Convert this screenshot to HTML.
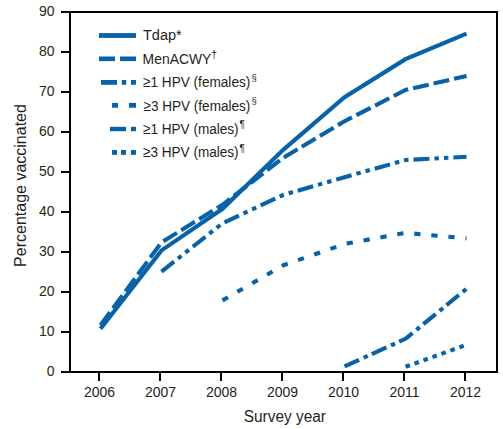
<!DOCTYPE html>
<html><head><meta charset="utf-8"><style>
html,body{margin:0;padding:0;background:#fff;width:503px;height:429px;overflow:hidden}
svg{display:block}
text{font-family:"Liberation Sans",sans-serif;fill:#231f20}
</style></head><body>
<svg width="503" height="429" viewBox="0 0 503 429">
<rect x="70" y="12" width="427" height="360" fill="none" stroke="#000" stroke-width="2"/>
<g stroke="#000" stroke-width="2"><line x1="61" y1="372" x2="70" y2="372"/>
<line x1="61" y1="332" x2="70" y2="332"/>
<line x1="61" y1="292" x2="70" y2="292"/>
<line x1="61" y1="252" x2="70" y2="252"/>
<line x1="61" y1="212" x2="70" y2="212"/>
<line x1="61" y1="172" x2="70" y2="172"/>
<line x1="61" y1="132" x2="70" y2="132"/>
<line x1="61" y1="92" x2="70" y2="92"/>
<line x1="61" y1="52" x2="70" y2="52"/>
<line x1="61" y1="12" x2="70" y2="12"/>
<line x1="99" y1="372" x2="99" y2="381"/>
<line x1="160" y1="372" x2="160" y2="381"/>
<line x1="221" y1="372" x2="221" y2="381"/>
<line x1="282" y1="372" x2="282" y2="381"/>
<line x1="343" y1="372" x2="343" y2="381"/>
<line x1="404" y1="372" x2="404" y2="381"/>
<line x1="465" y1="372" x2="465" y2="381"/></g>
<polyline points="100.50,328.80 161.50,250.40 222.50,208.80 283.50,149.60 344.50,97.20 405.50,59.20 466.50,33.60" fill="none" stroke="#0562ab" stroke-width="4.1" stroke-linejoin="miter"/>
<polyline points="100.50,325.20 161.50,242.40 222.50,204.80 283.50,157.60 344.50,121.20 405.50,90.00 466.50,76.00" fill="none" stroke="#0562ab" stroke-width="4.1" stroke-linejoin="miter" stroke-dasharray="16 5"/>
<polyline points="161.50,271.60 222.50,223.20 283.50,194.80 344.50,177.20 405.50,160.00 466.50,156.80" fill="none" stroke="#0562ab" stroke-width="4.1" stroke-linejoin="miter" stroke-dasharray="16 5 4.5 5 4.5 5"/>
<polyline points="222.50,300.40 283.50,265.20 344.50,244.00 405.50,232.80 466.50,238.40" fill="none" stroke="#0562ab" stroke-width="4.1" stroke-linejoin="miter" stroke-dasharray="6.3 10.85"/>
<polyline points="344.50,366.40 405.50,338.80 466.50,288.80" fill="none" stroke="#0562ab" stroke-width="4.1" stroke-linejoin="miter" stroke-dasharray="16 5 4.5 4.5"/>
<polyline points="405.50,366.80 466.50,344.80" fill="none" stroke="#0562ab" stroke-width="4.1" stroke-linejoin="miter" stroke-dasharray="4.6 4.95"/>
<rect x="99" y="33.10" width="37.00" height="4.8" fill="#0562ab"/>
<rect x="99" y="56.50" width="16.00" height="4.6" fill="#0562ab"/>
<rect x="120" y="56.50" width="16.00" height="4.6" fill="#0562ab"/>
<rect x="101" y="80.00" width="16.00" height="4.8" fill="#0562ab"/>
<rect x="121.8" y="80.00" width="4.40" height="4.8" fill="#0562ab"/>
<rect x="131" y="80.00" width="5.00" height="4.8" fill="#0562ab"/>
<rect x="112" y="102.90" width="6.00" height="4.8" fill="#0562ab"/>
<rect x="129" y="102.90" width="7.00" height="4.8" fill="#0562ab"/>
<rect x="110" y="126.80" width="16.00" height="4.4" fill="#0562ab"/>
<rect x="131" y="126.80" width="5.00" height="4.4" fill="#0562ab"/>
<rect x="112" y="150.00" width="5.00" height="4.8" fill="#0562ab"/>
<rect x="121" y="150.00" width="5.00" height="4.8" fill="#0562ab"/>
<rect x="131" y="150.00" width="5.00" height="4.8" fill="#0562ab"/>
<text x="54.5" y="16.3" text-anchor="end" font-size="14">90</text>
<text x="54.5" y="56.3" text-anchor="end" font-size="14">80</text>
<text x="54.5" y="96.3" text-anchor="end" font-size="14">70</text>
<text x="54.5" y="136.3" text-anchor="end" font-size="14">60</text>
<text x="54.5" y="176.3" text-anchor="end" font-size="14">50</text>
<text x="54.5" y="216.3" text-anchor="end" font-size="14">40</text>
<text x="54.5" y="256.3" text-anchor="end" font-size="14">30</text>
<text x="54.5" y="296.3" text-anchor="end" font-size="14">20</text>
<text x="54.5" y="336.3" text-anchor="end" font-size="14">10</text>
<text x="54.5" y="376.3" text-anchor="end" font-size="14">0</text>
<text x="99.5" y="397" text-anchor="middle" font-size="14">2006</text>
<text x="160.5" y="397" text-anchor="middle" font-size="14">2007</text>
<text x="221.5" y="397" text-anchor="middle" font-size="14">2008</text>
<text x="282.5" y="397" text-anchor="middle" font-size="14">2009</text>
<text x="343.5" y="397" text-anchor="middle" font-size="14">2010</text>
<text x="404.5" y="397" text-anchor="middle" font-size="14">2011</text>
<text x="465.5" y="397" text-anchor="middle" font-size="14">2012</text>
<text x="284.85" y="421.7" text-anchor="middle" font-size="16" textLength="82.09" lengthAdjust="spacingAndGlyphs">Survey year</text>
<text transform="translate(26.3,185.5) rotate(-90)" text-anchor="middle" font-size="16">Percentage vaccinated</text>
<text x="143.0" y="40" text-anchor="start" font-size="15.5" textLength="38.72" lengthAdjust="spacingAndGlyphs">Tdap*</text>
<text x="142.6" y="64" text-anchor="start" font-size="15.5" textLength="68.73" lengthAdjust="spacingAndGlyphs">MenACWY</text>
<text x="143.0" y="87" text-anchor="start" font-size="15.5" textLength="107.3" lengthAdjust="spacingAndGlyphs">≥1 HPV (females)</text>
<text x="143.5" y="111" text-anchor="start" font-size="15.5" textLength="106.8" lengthAdjust="spacingAndGlyphs">≥3 HPV (females)</text>
<text x="143.0" y="134" text-anchor="start" font-size="15.5" textLength="95.61" lengthAdjust="spacingAndGlyphs">≥1 HPV (males)</text>
<text x="143.0" y="157" text-anchor="start" font-size="15.5" textLength="95.61" lengthAdjust="spacingAndGlyphs">≥3 HPV (males)</text>
<text x="211" y="57.5" text-anchor="start" font-size="11">†</text>
<text x="251.5" y="81.2" text-anchor="start" font-size="9.5">§</text>
<text x="251.5" y="103.9" text-anchor="start" font-size="9.5">§</text>
<text x="239.5" y="128" text-anchor="start" font-size="10">¶</text>
<text x="239.5" y="151.9" text-anchor="start" font-size="10">¶</text>
</svg>
</body></html>
